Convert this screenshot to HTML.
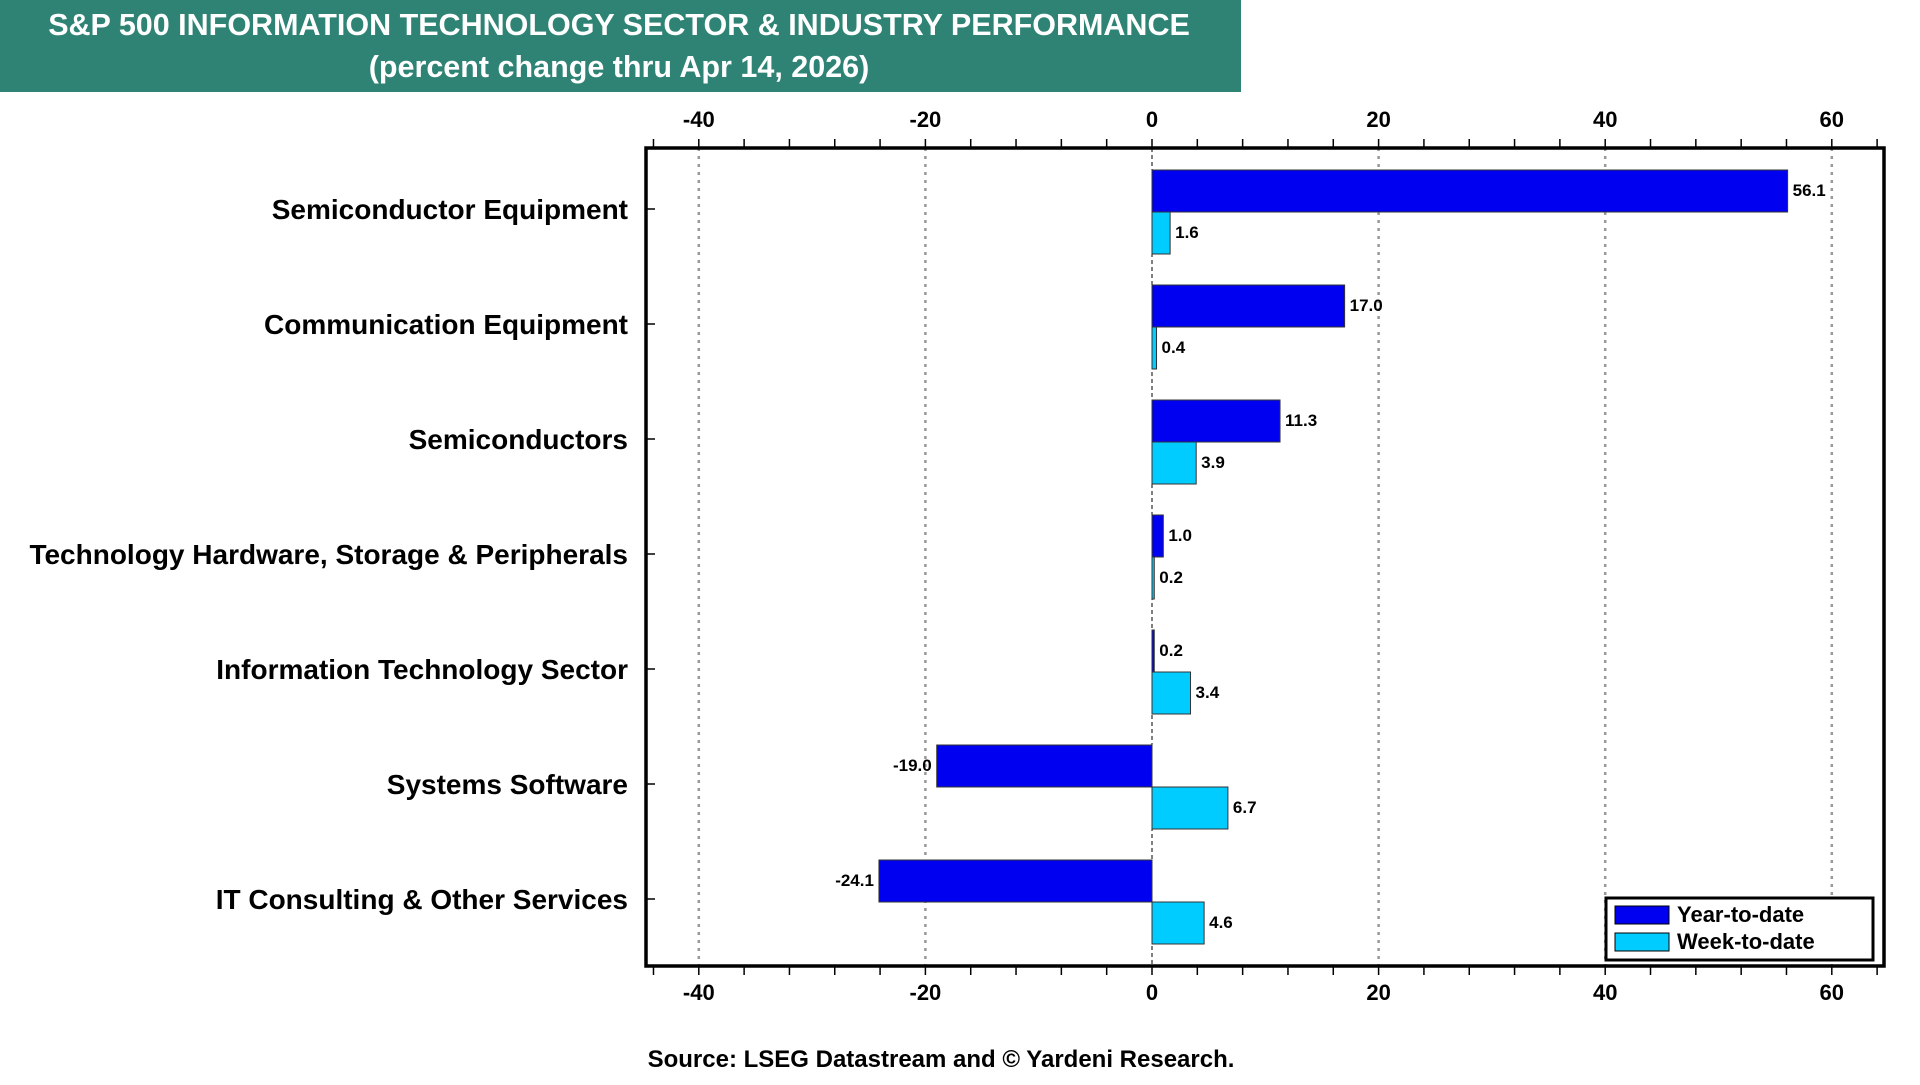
<!DOCTYPE html>
<html><head><meta charset="utf-8"><style>
body{margin:0;width:1920px;height:1080px;background:#fff;overflow:hidden;font-family:"Liberation Sans",Arial,sans-serif;}
svg text{font-family:"Liberation Sans",Arial,sans-serif;font-weight:bold;}
</style></head><body>
<svg id="chart" width="1920" height="1080">
<rect x="0" y="0" width="1241" height="92" fill="#2e8374"/>
<text x="619" y="35" fill="#fff" font-size="30.5" text-anchor="middle">S&amp;P 500 INFORMATION TECHNOLOGY SECTOR &amp; INDUSTRY PERFORMANCE</text>
<text x="619" y="77" fill="#fff" font-size="30.5" text-anchor="middle">(percent change thru Apr 14, 2026)</text>
<g id="plot"></g>
<text x="941" y="1067" font-size="24" text-anchor="middle">Source: LSEG Datastream and © Yardeni Research.</text>
</svg>
<script>
const categories=["Semiconductor Equipment","Communication Equipment","Semiconductors","Technology Hardware, Storage & Peripherals","Information Technology Sector","Systems Software","IT Consulting & Other Services"];
const ytd=[56.1,17.0,11.3,1.0,0.2,-19.0,-24.1];
const wtd=[1.6,0.4,3.9,0.2,3.4,6.7,4.6];
const ticks=[-40,-20,0,20,40,60];
const seriesNames=["Year-to-date","Week-to-date"];
const NS="http://www.w3.org/2000/svg";
const L=646,R=1884,T=148,B=966;
const x=v=>1152+v*11.33;
const rowY=i=>209+i*115;
const g=document.getElementById('plot');
function mk(t,a,txt){const e=document.createElementNS(NS,t);for(const k in a)e.setAttribute(k,a[k]);if(txt!=null)e.textContent=txt;g.appendChild(e);return e;}
ticks.forEach(t=>{
 if(t!==0){const e=mk('line',{x1:x(t),x2:x(t),y1:T,y2:B,stroke:'#999','stroke-width':2.5,'stroke-dasharray':'3,5'});
 
 }
 const a=mk('text',{x:x(t),y:127,'font-size':22,'text-anchor':'middle'},String(t));
 
 
 const b=mk('text',{x:x(t),y:1000,'font-size':22,'text-anchor':'middle'},String(t));
 
 
});
for(let v=-44;v<=64;v+=4){
 const a=mk('line',{x1:x(v),x2:x(v),y1:T-9,y2:T,stroke:'#000','stroke-width':1.5});
 
 
 const b=mk('line',{x1:x(v),x2:x(v),y1:B,y2:B+9,stroke:'#000','stroke-width':1.5});
 
 
}
const z=mk('line',{x1:x(0),x2:x(0),y1:T,y2:B,stroke:'#000','stroke-width':1,'stroke-dasharray':'4,3'});


categories.forEach((c,i)=>{
 const cy=rowY(i);
 const lb=mk('text',{x:628,y:cy+10,'font-size':28,'text-anchor':'end'},c);
 
 
 const tk=mk('line',{x1:L,x2:L+9,y1:cy,y2:cy,stroke:'#000','stroke-width':1.5});
 
 
 [[ytd[i],'#0000f0',cy-39],[wtd[i],'#00ccff',cy+3]].forEach(([v,col,top],s)=>{
  const x0=Math.min(x(0),x(v)),w=Math.abs(x(v)-x(0));
  const r=mk('rect',{x:x0,y:top,width:Math.max(w,1),height:42,fill:col,stroke:'#333','stroke-width':1});
  
  
  const t=mk('text',{x:v>=0?x(v)+5:x(v)-5,y:top+26,'font-size':17,'text-anchor':v>=0?'start':'end'},v.toFixed(1));
  
  
 });
});
const fr=mk('rect',{x:L,y:T,width:R-L,height:B-T,fill:'none',stroke:'#000','stroke-width':3.5});


const lg=mk('rect',{x:1606,y:898,width:267,height:62,fill:'#fff',stroke:'#000','stroke-width':3});


seriesNames.forEach((n,k)=>{
 const sw=mk('rect',{x:1615,y:906+k*27,width:54,height:18,fill:k?'#00ccff':'#0000f0',stroke:'#000','stroke-width':1});
 
 
 const t=mk('text',{x:1677,y:922+k*27,'font-size':22},n);
 
 
});
</script>
</body></html>
